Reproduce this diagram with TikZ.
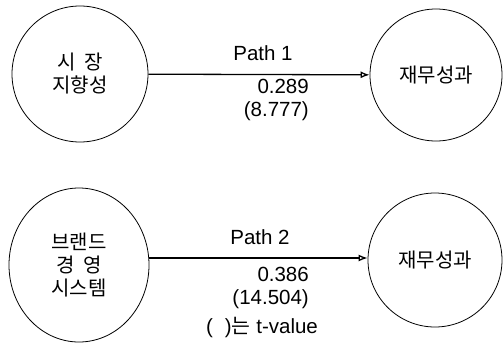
\documentclass[tikz,border=0pt]{standalone}
\usepackage{fontspec}
\setmainfont{Liberation Sans}
\newfontfamily\kr{Noto Sans CJK KR}
\usetikzlibrary{arrows.meta,shapes.geometric}

\begin{document}
\begin{tikzpicture}[x=1pt, y=-1pt,
   construct/.style ={circle, draw, line width=0.8pt, inner sep = 0pt,
     font=\kr\fontsize{20}{23}\selectfont},
   pathlabel/.style ={font=\fontsize{20.5}{23.5}\selectfont, inner sep=0pt},
   effect/.style ={-{Latex[open, length=9pt, width=7pt]}, line width=1.3pt}]
   \useasboundingbox (0,0) rectangle (503,346);
   \node[construct, align=center, minimum size=136pt] (M)  at (80,74)  {시\ \ 장\\지향성};
   \node[construct, minimum size=132pt] (P1)  at (436,75)  {재무성과};
   \node[construct, align=center, ellipse, minimum width=140pt, minimum height=154pt] (B)  at (79,265)  {브랜드\\경\ \ 영\\시스템};
   \node[construct, minimum size=134pt] (P2)  at (435,260)  {재무성과};
   
   \node[pathlabel] (L1) at (263,53) {Path 1};
   \node[pathlabel, align=right, anchor=east] (V1) at (309,100) {0.289\\(8.777)};
   \node[pathlabel] (L2) at (260,237) {Path 2};
   \node[pathlabel, align=right, anchor=east] (V2) at (309,288) {0.386\\(14.504)};
   \node[pathlabel] (N) at (262,327) {(\hspace{12pt}){\kr 는} t-value};
   
   \draw[effect] (M) to  (P1);
   \draw[effect] (B.east |- 0,258) to  (P2.west |- 0,258);
 \end{tikzpicture}
\end{document}
